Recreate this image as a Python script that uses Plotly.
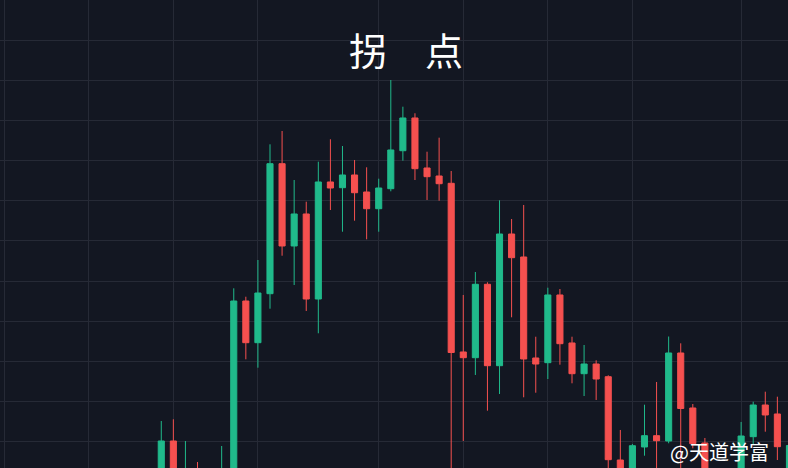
import plotly.graph_objects as go

# candle index (trading day number)
day = list(range(0, 53))

open_ = [2.0, 10.25, 0.5, 3.0, 1.0, 0.8, 1.5, 45.07, 34.70, 46.89,
         79.23, 58.76, 66.72, 45.57, 74.68, 73.26, 76.42, 72.19, 68.03, 73.01,
         82.46, 90.60, 78.16, 76.17, 74.35, 32.39, 30.97, 49.23, 28.98, 61.74,
         56.02, 30.90, 29.73, 46.57, 34.63, 26.99, 29.40, 26.24, 5.52, 1.0,
         8.76, 11.57, 10.25, 32.14, 18.46, 9.75, 1.0, 2.0, 1.5, 11.32,
         19.20, 16.97, 2.0]
high = [15.22, 15.65, 10.25, 5.02, 3.2, 9.0, 48.23, 46.14, 55.27, 84.05,
        87.36, 75.17, 69.78, 79.73, 85.30, 83.63, 80.15, 78.33, 75.50, 100.05,
        93.41, 91.77, 82.21, 85.70, 77.41, 46.57, 52.29, 49.73, 70.12, 65.47,
        68.96, 36.19, 48.38, 48.06, 36.19, 34.13, 30.32, 26.59, 12.99, 9.50,
        19.28, 24.93, 36.24, 34.55, 19.45, 11.00, 3.0, 3.3, 14.98, 20.02,
        22.51, 21.27, 9.5]
low = [0.5, 0.0, -0.5, 0.0, 0.2, 0.2, 0.8, 30.57, 28.48, 43.16,
       56.34, 49.05, 42.59, 37.04, 67.71, 62.31, 65.05, 60.42, 62.31, 72.36,
       79.98, 75.17, 70.20, 70.02, 1.0, 10.25, 26.67, 17.79, 21.94, 41.02,
       21.12, 22.26, 25.67, 29.23, 24.60, 21.44, 20.45, 1.0, 0.5, 0.3,
       6.59, 2.5, 9.68, 2.0, 8.43, 0.5, 0.5, 1.0, 0.8, 9.50,
       12.56, 5.52, 1.0]
close = [10.25, 1.5, 2.5, 1.0, 2.5, 3.0, 45.07, 34.70, 47.06, 79.23,
         58.76, 66.72, 45.57, 74.68, 73.18, 76.42, 72.01, 68.03, 73.18, 82.64,
         90.60, 77.99, 76.00, 74.25, 32.26, 30.97, 49.23, 28.98, 61.74, 55.85,
         30.65, 29.40, 46.57, 34.45, 26.99, 29.40, 25.67, 5.60, 1.5, 9.08,
         11.57, 10.32, 32.14, 18.33, 9.58, 1.5, 2.0, 3.0, 11.49, 19.20,
         16.72, 8.83, 9.13]

grid_days = [-13, -6, 1, 8, 18, 25, 32, 39, 48]
price_grid = [10, 20, 30, 40, 50, 60, 70, 80, 90, 100, 110, 120]

title_text = "拐　点"
watermark_text = "@天道学富"

UP = "#20ba8b"
DOWN = "#f5504f"
BG = "#131722"
GRID = "#262a36"

fig = go.Figure(go.Candlestick(
    x=day, open=open_, high=high, low=low, close=close,
    increasing=dict(fillcolor=UP, line=dict(color=UP, width=1)),
    decreasing=dict(fillcolor=DOWN, line=dict(color=DOWN, width=1)),
    whiskerwidth=0,
    hoverinfo="skip",
))

fig.update_layout(
    width=788, height=468,
    margin=dict(l=0, r=0, t=0, b=0),
    paper_bgcolor=BG, plot_bgcolor=BG,
    showlegend=False,
    boxgap=0.28,
    xaxis=dict(range=[-13.35, 51.88], rangeslider=dict(visible=False),
               tickvals=grid_days, showticklabels=False, showgrid=True,
               gridcolor=GRID, gridwidth=1, zeroline=False, showline=False,
               ticks=""),
    yaxis=dict(range=[3.53, 119.95], tickvals=price_grid, showticklabels=False,
               showgrid=True, gridcolor=GRID, gridwidth=1, zeroline=False,
               showline=False, ticks=""),
    annotations=[
        dict(text=title_text, x=0.515, y=1 - 49 / 468, xref="paper", yref="paper",
             xanchor="center", yanchor="middle", showarrow=False,
             font=dict(family="Noto Sans CJK SC", size=38, color="#ffffff")),
        dict(text=watermark_text, x=668 / 788, y=0.0, xref="paper", yref="paper",
             xanchor="left", yanchor="bottom", showarrow=False,
             font=dict(family="Noto Sans CJK SC", size=20, color="#ffffff")),
    ],
)

fig.write_html(
    "out.html",
    config={"displayModeBar": False},
    post_script="document.body.style.margin='0';document.body.style.overflow='hidden';",
)
